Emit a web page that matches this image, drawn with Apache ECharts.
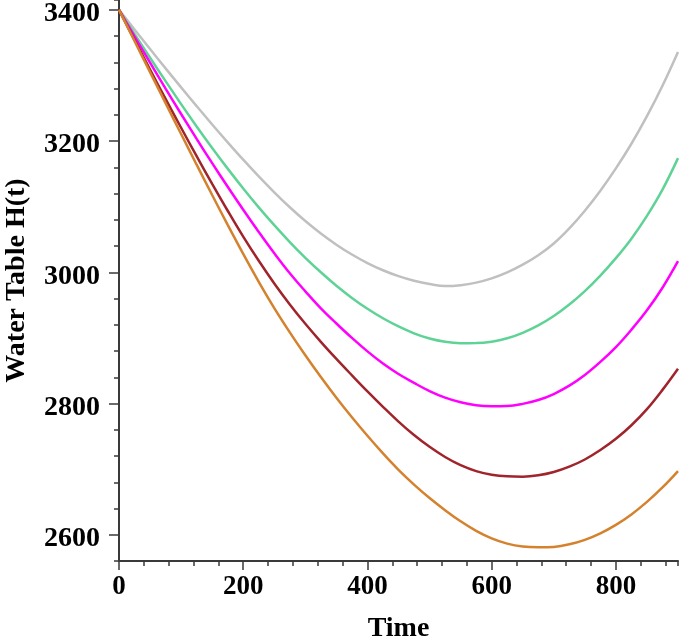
<!DOCTYPE html>
<html>
<head>
<meta charset="utf-8">
<script src="https://cdn.jsdelivr.net/npm/echarts@6/dist/echarts.min.js"></script>
<style>
  html, body { margin: 0; padding: 0; background: #fff; }
  #chart { width: 685px; height: 641px; }
</style>
</head>
<body>
<div id="chart"></div>
<script>
// time steps (x) and water table levels
const times = [0, 25, 50, 75, 100, 125, 150, 175, 200, 225, 250, 275, 300, 325, 350, 375, 400, 425, 450,
  475, 500, 525, 550, 575, 600, 625, 650, 675, 700, 725, 750, 775, 800, 825, 850, 875, 900]
const grayLevels = [3400, 3370, 3340.3, 3310.8, 3281.8, 3253.3, 3225.3, 3198.1, 3171.6, 3146.1, 3121.9, 3099.1, 3078.1, 3059.1,
  3042.1, 3027.1, 3014.1, 3003.1, 2994.1, 2987.1, 2982.1, 2979.1, 2980.4, 2984.3, 2990.8, 2999.9, 3011.6, 3025.9,
  3043.9, 3066.9, 3093.9, 3124.4, 3158.4, 3195.9, 3237.9, 3284.4, 3335.9]
const greenLevels = [3400, 3363.3, 3327, 3291.3, 3256.3, 3222.3, 3189.5, 3158, 3127.8, 3099, 3071.8, 3046, 3022, 3000,
  2979.5, 2961, 2944.5, 2930, 2917.5, 2907, 2899, 2894, 2892, 2892.1, 2894.2, 2899.4, 2907.7, 2919,
  2933.4, 2950.9, 2971.4, 2995, 3021.6, 3051.3, 3086, 3126, 3174]
const magentaLevels = [3400, 3359.5, 3319.5, 3280, 3241.3, 3203.3, 3166.3, 3130.3, 3095.3, 3061.5, 3029, 2998.5, 2971, 2945,
  2922, 2900, 2879.5, 2861, 2845, 2831.5, 2819, 2809, 2802, 2797.5, 2796, 2796.3, 2799.5, 2805.3,
  2814.5, 2827.2, 2843.5, 2863.4, 2886, 2912.5, 2942, 2976.5, 3017]
const brownLevels = [3400, 3354.3, 3309, 3264.3, 3220.3, 3177, 3134.8, 3093.8, 3054.3, 3017.5, 2983, 2951, 2921.5, 2894,
  2868, 2843, 2818.5, 2795, 2772.5, 2752, 2734, 2718.5, 2706, 2697, 2691.5, 2689, 2688.5, 2690.6,
  2695.6, 2703.7, 2714.7, 2729.1, 2746.2, 2766.9, 2791.5, 2820.8, 2853]
const orangeLevels = [3400, 3352.5, 3305, 3257.8, 3210.8, 3164, 3117.8, 3072.3, 3028, 2985.5, 2945.5, 2908.5, 2873.5, 2840.3,
  2808.8, 2779, 2750.8, 2724, 2699, 2676.5, 2656, 2637.5, 2620.5, 2606, 2594.5, 2586.5, 2582, 2580.8,
  2581.5, 2585.4, 2592.3, 2602.2, 2615.1, 2631, 2650.1, 2672.1, 2697.1]

const xMajor = [0, 200, 400, 600, 800]
const yMajor = [2600, 2800, 3000, 3200, 3400]

const chart = echarts.init(document.getElementById('chart'))

const font = 'Liberation Serif'
const axisColor = '#3a3a3a'

const makeSeries = (name, levels, color) => {
  return {
    name: name,
    type: 'line',
    smooth: 0.4,
    symbol: 'none',
    lineStyle: { color: color, width: 2.5 },
    data: levels.map((v, i) => [times[i], v])
  }
}

const option = {
  animation: false,
  backgroundColor: '#fff',
  grid: { left: 119, right: 7, top: 0, bottom: 80, outerBoundsMode: 'none', containLabel: false },
  xAxis: [
    {
      // minor ticks + axis line
      type: 'value', min: 0, max: 900, interval: 40, position: 'bottom',
      axisLine: { show: true, lineStyle: { color: axisColor, width: 2 } },
      axisTick: { show: true, length: 5, lineStyle: { color: axisColor, width: 1.5 } },
      axisLabel: { show: false },
      splitLine: { show: false }
    },
    {
      // major ticks, labels and name
      type: 'value', min: 0, max: 900, position: 'bottom', offset: 0,
      axisLine: { show: false },
      axisTick: { show: true, customValues: xMajor, length: 9, lineStyle: { color: axisColor, width: 1.5 } },
      axisLabel: {
        customValues: xMajor, margin: 13, color: '#000',
        fontFamily: font, fontWeight: 'bold', fontSize: 27,
        formatter: v => String(v)
      },
      splitLine: { show: false },
      name: 'Time', nameLocation: 'middle', nameGap: 54,
      nameTextStyle: { color: '#000', fontFamily: font, fontWeight: 'bold', fontSize: 28 }
    }
  ],
  yAxis: [
    {
      type: 'value', min: 2560, max: 3415, interval: 40, position: 'left',
      axisLine: { show: true, lineStyle: { color: axisColor, width: 2 } },
      axisTick: { show: true, length: 5, lineStyle: { color: axisColor, width: 1.5 } },
      axisLabel: { show: false },
      splitLine: { show: false }
    },
    {
      type: 'value', min: 2560, max: 3415, position: 'left', offset: 0,
      axisLine: { show: false },
      axisTick: { show: true, customValues: yMajor, length: 10, lineStyle: { color: axisColor, width: 1.5 } },
      axisLabel: {
        customValues: yMajor, margin: 19, color: '#000',
        fontFamily: font, fontWeight: 'bold', fontSize: 28,
        verticalAlign: 'top', lineHeight: 8,
        formatter: v => String(v)
      },
      splitLine: { show: false },
      name: 'Water Table H(t)', nameLocation: 'middle', nameGap: 88,
      nameTextStyle: { color: '#000', fontFamily: font, fontWeight: 'bold', fontSize: 28 }
    }
  ],
  series: [
    makeSeries('gray', grayLevels, '#c0c0c0'),
    makeSeries('green', greenLevels, '#5fd396'),
    makeSeries('magenta', magentaLevels, '#ff00ff'),
    makeSeries('brown', brownLevels, '#a0242b'),
    makeSeries('orange', orangeLevels, '#d4822e')
  ]
}

chart.setOption(option)
</script>
</body>
</html>
